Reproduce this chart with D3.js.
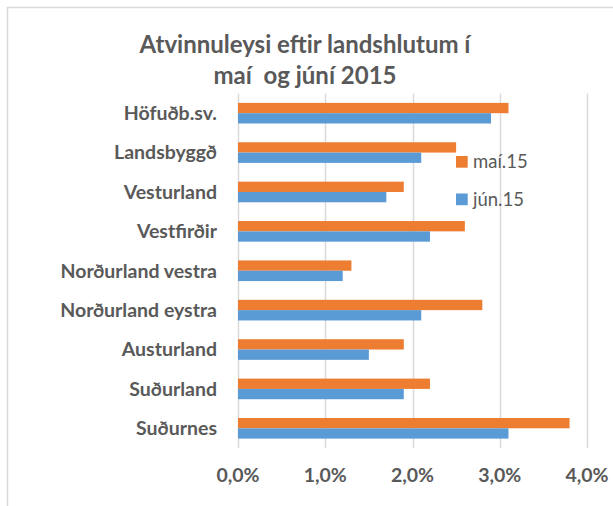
<!DOCTYPE html>
<html lang="is">
<head>
    <meta charset="UTF-8">
    <title>Atvinnuleysi eftir landshlutum</title>
    <script src="https://d3js.org/d3.v7.min.js"></script>
    <style>
        body { margin: 0; background: #fff; }
        text { font-family: Lato, "Open Sans", sans-serif; fill: #595959; }
    </style>
</head>
<body>
    <div id="chart"></div>

    <script>
        // Data (atvinnuleysi, %)
        const categories = ["Höfuðb.sv.", "Landsbyggð", "Vesturland", "Vestfirðir",
            "Norðurland vestra", "Norðurland eystra", "Austurland", "Suðurland", "Suðurnes"];
        const mai15 = [3.1, 2.5, 1.9, 2.6, 1.3, 2.8, 1.9, 2.2, 3.8];
        const jun15 = [2.9, 2.1, 1.7, 2.2, 1.2, 2.1, 1.5, 1.9, 3.1];
        const seriesNames = ["maí.15", "jún.15"];
        const seriesColors = ["#ED7D31", "#5B9BD5"];
        const xTicks = [0, 1, 2, 3, 4];
        const titleLines = ["Atvinnuleysi eftir landshlutum í", "maí  og júní 2015"];

        const W = 613, H = 506;
        const plot = {left: 238, right: 587, top: 93.5, bottom: 448};

        const svg = d3.select("#chart")
            .append("svg")
            .attr("width", W)
            .attr("height", H);

        svg.append("rect").attr("width", W).attr("height", H).attr("fill", "#fff");

        // chart border (only left/top visible)
        svg.append("path")
            .attr("d", `M7.5,${H} L7.5,7.5 L${W},7.5`)
            .attr("fill", "none")
            .attr("stroke", "#D9D9D9")
            .attr("stroke-width", 1.5);

        // Title
        svg.append("text")
            .attr("x", 305)
            .attr("y", 53)
            .attr("text-anchor", "middle")
            .style("font-size", "24px")
            .style("font-weight", "bold")
            .selectAll("tspan")
            .data(titleLines)
            .enter().append("tspan")
            .attr("x", 305)
            .attr("dy", (d, i) => i === 0 ? 0 : 31)
            .style("white-space", "pre")
            .text(d => d);

        // Scales
        const x = d3.scaleLinear()
            .domain([0, 4])
            .range([plot.left, plot.right]);

        const y = d3.scaleBand()
            .domain(categories)
            .range([plot.top, plot.bottom]);

        const ySub = d3.scaleBand()
            .domain(seriesNames)
            .range([0, y.bandwidth()])
            .paddingOuter(0.91);

        // Gridlines
        svg.append("g")
            .selectAll("line")
            .data(xTicks)
            .enter().append("line")
            .attr("x1", d => Math.round(x(d)) + 0.5)
            .attr("x2", d => Math.round(x(d)) + 0.5)
            .attr("y1", plot.top)
            .attr("y2", plot.bottom)
            .attr("stroke", "#D9D9D9")
            .attr("stroke-width", 1.5);

        // X tick labels
        svg.append("g")
            .selectAll("text")
            .data(xTicks)
            .enter().append("text")
            .attr("x", d => x(d))
            .attr("y", 482)
            .attr("text-anchor", "middle")
            .style("font-size", "19.5px")
            .style("font-weight", "bold")
            .text(d => d3.format(".1f")(d).replace(".", ",") + "%");

        // Category labels
        svg.append("g")
            .selectAll("text")
            .data(categories)
            .enter().append("text")
            .attr("x", 217)
            .attr("y", d => y(d) + y.bandwidth() / 2)
            .attr("dy", "0.35em")
            .attr("text-anchor", "end")
            .style("font-size", "19.5px")
            .style("font-weight", "bold")
            .text(d => d);

        // Bars
        const rows = categories.map((c, i) => ({cat: c, values: [mai15[i], jun15[i]]}));

        const groups = svg.append("g")
            .selectAll("g")
            .data(rows)
            .enter().append("g")
            .attr("transform", d => `translate(0,${y(d.cat)})`);

        groups.selectAll("rect")
            .data(d => d.values.map((v, j) => ({name: seriesNames[j], value: v, j: j})))
            .enter().append("rect")
            .attr("x", x(0))
            .attr("y", d => ySub(d.name))
            .attr("width", d => x(d.value) - x(0))
            .attr("height", ySub.bandwidth())
            .attr("fill", d => seriesColors[d.j]);

        // Legend
        const legend = svg.append("g")
            .selectAll("g")
            .data(seriesNames)
            .enter().append("g")
            .attr("transform", (d, i) => `translate(456,${156 + i * 37.5})`);

        legend.append("rect")
            .attr("width", 11.7)
            .attr("height", 11.7)
            .attr("fill", (d, i) => seriesColors[i]);

        legend.append("text")
            .attr("x", 17)
            .attr("y", 12.3)
            .style("font-size", "18.5px")
            .text(d => d);
    </script>
</body>
</html>
